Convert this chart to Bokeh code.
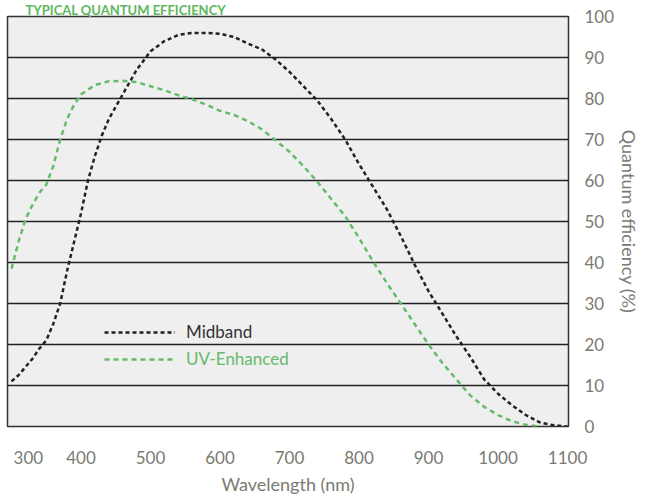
from bokeh.plotting import figure
from bokeh.models import Range1d, FixedTicker, Legend, LegendItem
from bokeh.embed import file_html
from bokeh.resources import INLINE

# ---- data ----
wl_mid = [300, 310, 320, 330, 340, 350, 360, 370, 380, 390, 400, 410, 420, 430, 440,
          460, 480, 500, 520, 540, 560, 580, 600, 620, 640, 660, 680, 700, 720, 740,
          760, 780, 800, 820, 840, 860, 880, 900, 920, 940, 960, 980, 1000, 1020,
          1040, 1060, 1080, 1100]
qe_mid = [11, 12.5, 14.5, 16.5, 19, 21, 25, 30, 38, 45, 52, 60, 66, 71, 75,
          81, 87, 91.5, 94, 95.5, 96, 96, 95.8, 95, 93.4, 92, 89.5, 86.5, 83, 79.5,
          75, 70, 64, 58.5, 53, 46.5, 39.5, 33, 27.5, 22, 17, 11.5, 8, 5.2,
          2.8, 1, 0.3, 0]

wl_uv = [300, 310, 320, 330, 340, 350, 360, 370, 380, 390, 400, 420, 440, 460, 480,
         500, 520, 540, 560, 580, 600, 620, 640, 660, 680, 700, 720, 740, 760, 780,
         800, 820, 840, 860, 880, 900, 920, 940, 960, 980, 1000, 1020, 1040, 1060]
qe_uv = [38.5, 45, 50.5, 54, 57, 59, 63.5, 70, 75, 78.5, 81, 83.3, 84.2, 84.3, 84,
         83, 82, 80.8, 79.8, 78.5, 77, 76, 74.5, 72.5, 69.8, 67, 63.5, 59.7, 55.5, 51.3,
         46, 40.3, 35, 30, 25, 20, 15.5, 11.5, 7.6, 4.8, 2.8, 1.3, 0.4, 0]

x_ticks = [300, 400, 500, 600, 700, 800, 900, 1000, 1100]
y_ticks = [0, 10, 20, 30, 40, 50, 60, 70, 80, 90, 100]

title_text = "TYPICAL QUANTUM EFFICIENCY"
series_names = ["Midband", "UV-Enhanced"]

# ---- styles ----
GRAY = "#7a7a72"
GREEN = "#66bb6a"
DARK = "#222222"
FONT = "Lato"

p = figure(frame_width=561, frame_height=410,
           x_range=Range1d(294.2, 1101.4), y_range=Range1d(0, 100),
           output_backend="svg", toolbar_location=None,
           y_axis_location="right",
           min_border_left=7, min_border_top=0, min_border_bottom=0, min_border_right=0)

p.title.text = title_text
p.title.text_font = FONT
p.title.text_font_size = "13px"
p.title.text_font_style = "bold"
p.title.text_color = "#5cb85c"
p.title.text_line_height = 1.0
p.title.align = "left"
p.title.offset = 18
p.title.standoff = -2

p.background_fill_color = "#efefef"
p.border_fill_color = "white"
p.outline_line_color = "#333333"
p.outline_line_width = 1.5

p.xgrid.grid_line_color = None
p.ygrid.ticker = FixedTicker(ticks=y_ticks)
p.ygrid.grid_line_color = DARK
p.ygrid.grid_line_width = 1.5

# x axis (first label pushed inward with no-break spaces, as in the reference)
xa = p.xaxis[0]
xa.ticker = FixedTicker(ticks=x_ticks)
xa.major_label_overrides = {x_ticks[0]: "\u00a0" * 3 + str(x_ticks[0])}
xa.axis_line_color = None
xa.major_tick_line_color = None
xa.minor_tick_line_color = None
xa.major_label_text_font = FONT
xa.major_label_text_font_size = "17px"
xa.major_label_text_color = GRAY
xa.major_label_standoff = 14
xa.axis_label = "Wavelength (nm)"
xa.axis_label_text_font = FONT
xa.axis_label_text_font_size = "18px"
xa.axis_label_text_font_style = "normal"
xa.axis_label_text_color = GRAY
xa.axis_label_standoff = 2

# y axis (right)
ya = p.yaxis[0]
ya.ticker = FixedTicker(ticks=y_ticks)
ya.axis_line_color = None
ya.major_tick_line_color = None
ya.minor_tick_line_color = None
ya.major_label_text_font = FONT
ya.major_label_text_font_size = "17px"
ya.major_label_text_color = GRAY
ya.major_label_standoff = 10
ya.axis_label = "Quantum efficiency (%)"
ya.axis_label_text_font = FONT
ya.axis_label_text_font_size = "18px"
ya.axis_label_text_font_style = "normal"
ya.axis_label_text_color = GRAY
ya.axis_label_standoff = 1

# curves
r_uv = p.line(wl_uv, qe_uv, line_color=GREEN, line_width=2.5, line_dash="5 4")
r_mid = p.line(wl_mid, qe_mid, line_color=DARK, line_width=2.5, line_dash="4 3")

# legends (two, for different text colours)
for r, name, col, loc in [(r_mid, series_names[0], "#333333", (97, 84)),
                          (r_uv, series_names[1], GREEN, (97, 57))]:
    lg = Legend(items=[LegendItem(label=name, renderers=[r])], location=loc,
                glyph_width=71, glyph_height=20, label_standoff=11,
                padding=0, margin=0, border_line_color=None,
                background_fill_alpha=0,
                label_text_font=FONT, label_text_font_size="17px",
                label_text_color=col)
    p.add_layout(lg, "center")

open("out.html", "w").write(file_html(p, INLINE))
